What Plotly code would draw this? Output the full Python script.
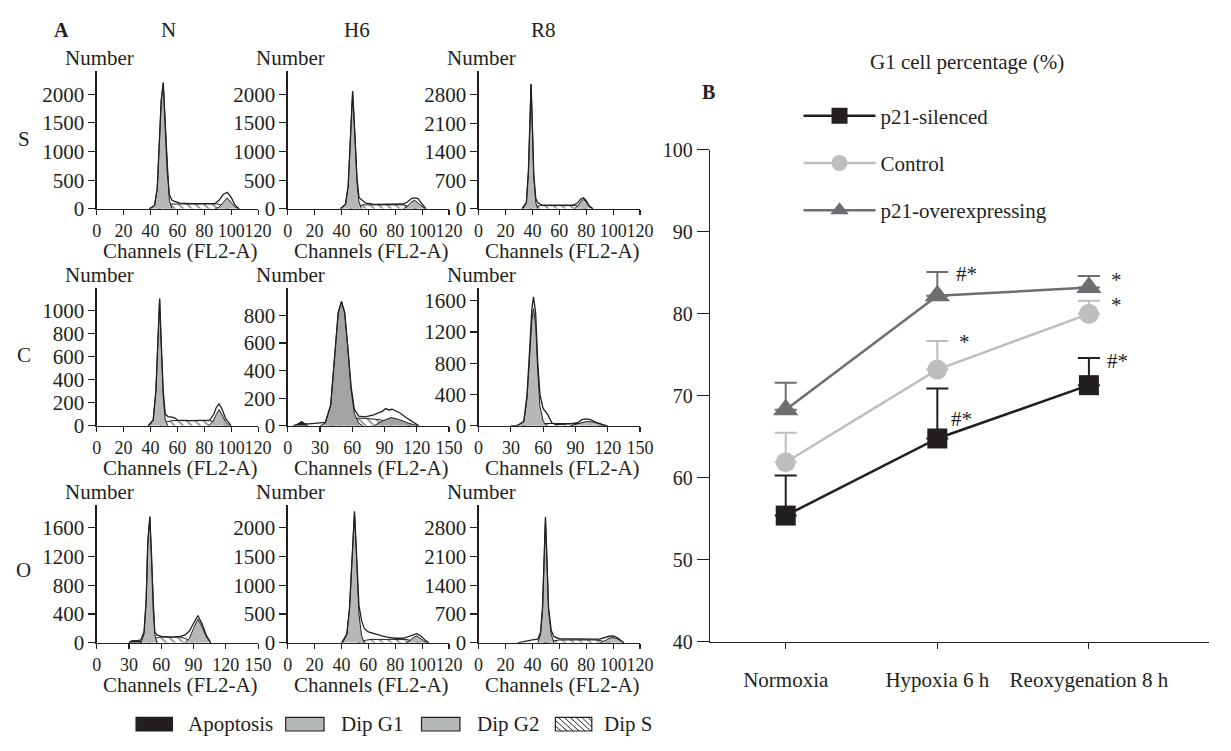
import plotly.graph_objects as go

# The page is shown with the browser's default 8 px body margin, so the figure is
# made 16 px smaller and every reference pixel position is shifted by that margin.
REF_W, REF_H = 1231, 751
OFF = 8
W, H = REF_W - 2 * OFF, REF_H - 2 * OFF
FONT = "Liberation Serif, Times New Roman, serif"
INK = "#231f20"
GRAY = "#b6b7b9"
GRAY_DARK = "#a2a3a5"

# ---------------- Panel B data ----------------
CONDITIONS = ["Normoxia", "Hypoxia 6 h", "Reoxygenation 8 h"]
SILENCED = [55.4, 64.8, 71.3]
SILENCED_ERR = [4.9, 6.1, 3.3]
CONTROL = [61.9, 73.2, 80.0]
CONTROL_ERR = [3.6, 3.5, 1.6]
OVEREXP = [68.3, 82.2, 83.2]
OVEREXP_ERR = [3.3, 2.9, 1.4]
B_YTICKS = [40, 50, 60, 70, 80, 90, 100]
SIG_TEXT = ["#*", "*", "*", "*", "#*", "#*"]
SIG_X = [1.19, 2.18, 2.18, 1.18, 1.16, 2.19]
SIG_Y = [84.9, 84.1, 81.1, 76.6, 67.2, 74.2]

# ---------------- Panel A data ----------------
ROWS = ["S", "C", "O"]
COLS = ["N", "H6", "R8"]

# S / N
S_N_G1_X = [40, 43, 45, 46.5, 48, 49.5, 51, 52.5, 54, 56]
S_N_G1_Y = [0, 60, 350, 1100, 1900, 2200, 1500, 600, 150, 0]
S_N_S_X = [46, 52, 56, 90, 94, 98]
S_N_S_Y = [0, 60, 85, 85, 50, 0]
S_N_G2_X = [88, 91, 94, 97, 100, 103, 106]
S_N_G2_Y = [0, 30, 110, 190, 110, 30, 0]
S_N_TOT_X = [39, 43, 45, 46.5, 48, 49.5, 51, 52.5, 54, 56, 58, 62, 70, 80, 88, 91, 94, 97, 100, 103, 106]
S_N_TOT_Y = [0, 60, 350, 1100, 1900, 2200, 1500, 650, 250, 150, 130, 100, 90, 90, 95, 150, 250, 290, 200, 60, 0]

# S / H6
S_H6_G1_X = [40, 43, 45, 46.5, 48.3, 50, 51.5, 53, 55]
S_H6_G1_Y = [0, 80, 400, 1200, 2050, 1300, 500, 120, 0]
S_H6_S_X = [46, 52, 56, 86, 91, 96]
S_H6_S_Y = [0, 50, 70, 70, 40, 0]
S_H6_G2_X = [86, 89, 92, 94.5, 97, 100, 102]
S_H6_G2_Y = [0, 40, 120, 150, 100, 30, 0]
S_H6_TOT_X = [39, 43, 45, 46.5, 48.3, 50, 51.5, 53, 55, 58, 65, 80, 86, 89, 92, 94.5, 97, 100, 103]
S_H6_TOT_Y = [0, 80, 400, 1200, 2050, 1300, 550, 200, 160, 100, 80, 80, 85, 120, 180, 190, 180, 80, 0]

# S / R8
S_R8_G1_X = [33, 35.5, 37, 38, 39, 40, 41, 42.5, 44]
S_R8_G1_Y = [0, 150, 900, 2000, 3050, 2000, 800, 150, 0]
S_R8_S_X = [38, 42, 46, 72, 76, 80]
S_R8_S_Y = [0, 60, 80, 80, 50, 0]
S_R8_G2_X = [71, 74, 76, 78, 80, 82, 85]
S_R8_G2_Y = [0, 80, 180, 230, 170, 60, 0]
S_R8_TOT_X = [32, 35.5, 37, 38, 39, 40, 41, 42.5, 44, 47, 55, 70, 73, 76, 78, 80, 82, 85]
S_R8_TOT_Y = [0, 150, 900, 2000, 3050, 2000, 850, 250, 150, 100, 90, 90, 130, 240, 270, 200, 80, 0]

# C / N
C_N_G1_X = [39, 42, 44, 45.5, 46.8, 48, 49.5, 51, 53]
C_N_G1_Y = [0, 50, 300, 750, 1100, 700, 250, 50, 0]
C_N_S_X = [47, 52, 56, 84, 90, 97]
C_N_S_Y = [0, 35, 45, 45, 25, 0]
C_N_G2_X = [83, 86, 89, 91, 93, 96, 99]
C_N_G2_Y = [0, 30, 100, 140, 100, 30, 0]
C_N_TOT_X = [38, 42, 44, 45.5, 46.8, 48, 49.5, 51, 53, 56, 58, 60, 70, 84, 87, 89, 91, 93, 96, 100]
C_N_TOT_Y = [0, 50, 300, 750, 1100, 720, 300, 100, 80, 75, 70, 50, 45, 50, 100, 160, 190, 150, 60, 0]

# C / H6
C_H6_APO_X = [7, 10, 13, 16, 19]
C_H6_APO_Y = [0, 15, 30, 15, 0]
C_H6_G1_X = [30, 35, 40, 44, 47, 50, 53, 56, 59, 62, 66, 70]
C_H6_G1_Y = [0, 20, 150, 500, 820, 900, 820, 560, 260, 90, 20, 0]
C_H6_S_X = [40, 48, 56, 70, 85, 95, 105, 115]
C_H6_S_Y = [0, 35, 55, 55, 45, 30, 12, 0]
C_H6_G2_X = [80, 88, 96, 104, 112, 121]
C_H6_G2_Y = [0, 35, 60, 45, 20, 0]
C_H6_TOT_X = [5, 10, 13, 16, 20, 28, 35, 40, 44, 47, 50, 53, 56, 59, 62, 66, 72, 80, 85, 88, 91, 94, 97, 100, 104, 110, 116, 122]
C_H6_TOT_Y = [0, 15, 30, 15, 15, 20, 25, 150, 500, 820, 900, 820, 560, 280, 120, 70, 65, 80, 95, 105, 125, 115, 120, 110, 95, 60, 30, 0]

# C / R8
C_R8_G1_X = [36, 42, 45, 47.5, 49.5, 51, 53, 55, 57, 60, 63]
C_R8_G1_Y = [0, 50, 350, 900, 1350, 1500, 1300, 700, 250, 60, 0]
C_R8_S_X = [40, 50, 60, 95, 110, 118]
C_R8_S_Y = [0, 25, 30, 30, 15, 0]
C_R8_G2_X = [85, 92, 100, 106, 112, 119]
C_R8_G2_Y = [0, 30, 55, 50, 25, 0]
C_R8_TOT_X = [30, 36, 42, 45, 47.5, 49.5, 51, 53, 55, 57, 60, 64, 68, 72, 85, 92, 96, 100, 104, 110, 117, 120]
C_R8_TOT_Y = [0, 5, 60, 400, 1000, 1500, 1650, 1450, 800, 400, 220, 150, 40, 15, 25, 40, 80, 90, 80, 40, 10, 0]

# O / N
O_N_APO_X = [30, 32, 36, 40, 42]
O_N_APO_Y = [0, 25, 30, 25, 0]
O_N_G1_X = [41, 44, 46, 47.5, 49.4, 51, 52.5, 54, 56]
O_N_G1_Y = [0, 120, 600, 1400, 1750, 1200, 500, 120, 0]
O_N_S_X = [48, 54, 58, 78, 84, 90]
O_N_S_Y = [0, 60, 80, 80, 50, 0]
O_N_G2_X = [82, 86, 90, 94, 98, 102, 106]
O_N_G2_Y = [0, 60, 200, 330, 220, 80, 0]
O_N_TOT_X = [30, 32, 38, 41, 44, 46, 47.5, 49.4, 51, 52.5, 54, 56, 60, 70, 78, 82, 86, 90, 94, 98, 102, 106]
O_N_TOT_Y = [0, 25, 30, 40, 150, 600, 1400, 1750, 1200, 500, 150, 110, 90, 80, 90, 110, 160, 260, 380, 260, 100, 0]

# O / H6
O_H6_G1_X = [41, 44, 46, 48, 49.7, 51.2, 53, 55, 57]
O_H6_G1_Y = [0, 150, 600, 1500, 2280, 1500, 500, 120, 0]
O_H6_S_X = [52, 58, 62, 88, 93, 98]
O_H6_S_Y = [0, 45, 60, 60, 35, 0]
O_H6_G2_X = [88, 91, 94, 96, 98, 101, 104]
O_H6_G2_Y = [0, 40, 100, 120, 90, 30, 0]
O_H6_TOT_X = [40, 44, 46, 48, 49.7, 51.2, 53, 55, 57, 60, 65, 70, 75, 80, 86, 90, 93, 96, 99, 102, 105]
O_H6_TOT_Y = [0, 150, 600, 1500, 2280, 1550, 650, 380, 250, 190, 150, 120, 95, 80, 80, 110, 140, 160, 120, 50, 0]

# O / R8
O_R8_G1_X = [44, 46, 47.5, 48.8, 49.7, 50.6, 52, 54, 56]
O_R8_G1_Y = [0, 200, 800, 2000, 3050, 2200, 800, 200, 0]
O_R8_S_X = [48, 55, 60, 88, 93, 98]
O_R8_S_Y = [0, 50, 70, 70, 40, 0]
O_R8_G2_X = [90, 94, 97, 100, 103, 106, 108]
O_R8_G2_Y = [0, 50, 110, 130, 100, 30, 0]
O_R8_TOT_X = [29, 34, 40, 44, 46, 47.5, 48.8, 49.7, 50.6, 52, 54, 56, 60, 70, 85, 90, 94, 97, 100, 103, 106, 108]
O_R8_TOT_Y = [0, 40, 70, 90, 250, 850, 2000, 3050, 2200, 850, 300, 150, 100, 90, 90, 90, 130, 160, 170, 130, 50, 0]

# axis extents per panel (row-major S/N, S/H6, S/R8, C/N, ...)
X_MAX = [120, 120, 120, 120, 150, 150, 150, 120, 120]
X_STEP = [20, 20, 20, 20, 30, 30, 30, 20, 20]
Y_MAX = [2400, 2400, 3370, 1190, 995, 1760, 1909, 2387, 3341]
Y_STEP = [500, 500, 700, 200, 200, 400, 400, 500, 700]

LEGEND_A = ["Apoptosis", "Dip G1", "Dip G2", "Dip S"]

PANELS = [
    (None, None, S_N_G1_X, S_N_G1_Y, S_N_S_X, S_N_S_Y, S_N_G2_X, S_N_G2_Y, S_N_TOT_X, S_N_TOT_Y),
    (None, None, S_H6_G1_X, S_H6_G1_Y, S_H6_S_X, S_H6_S_Y, S_H6_G2_X, S_H6_G2_Y, S_H6_TOT_X, S_H6_TOT_Y),
    (None, None, S_R8_G1_X, S_R8_G1_Y, S_R8_S_X, S_R8_S_Y, S_R8_G2_X, S_R8_G2_Y, S_R8_TOT_X, S_R8_TOT_Y),
    (None, None, C_N_G1_X, C_N_G1_Y, C_N_S_X, C_N_S_Y, C_N_G2_X, C_N_G2_Y, C_N_TOT_X, C_N_TOT_Y),
    (C_H6_APO_X, C_H6_APO_Y, C_H6_G1_X, C_H6_G1_Y, C_H6_S_X, C_H6_S_Y, C_H6_G2_X, C_H6_G2_Y, C_H6_TOT_X, C_H6_TOT_Y),
    (None, None, C_R8_G1_X, C_R8_G1_Y, C_R8_S_X, C_R8_S_Y, C_R8_G2_X, C_R8_G2_Y, C_R8_TOT_X, C_R8_TOT_Y),
    (O_N_APO_X, O_N_APO_Y, O_N_G1_X, O_N_G1_Y, O_N_S_X, O_N_S_Y, O_N_G2_X, O_N_G2_Y, O_N_TOT_X, O_N_TOT_Y),
    (None, None, O_H6_G1_X, O_H6_G1_Y, O_H6_S_X, O_H6_S_Y, O_H6_G2_X, O_H6_G2_Y, O_H6_TOT_X, O_H6_TOT_Y),
    (None, None, O_R8_G1_X, O_R8_G1_Y, O_R8_S_X, O_R8_S_Y, O_R8_G2_X, O_R8_G2_Y, O_R8_TOT_X, O_R8_TOT_Y),
]


def fx(p):
    return min(1.0, max(0.0, (p - OFF) / W))


def fy(p):
    return min(1.0, max(0.0, 1 - (p - OFF) / H))


COL_LEFT = [93, 287, 481]
AX_W = 164
ROW_BOTTOM = [204, 428, 652]
AX_H = 142

fig = go.Figure()
layout = dict(
    width=W, height=H, autosize=False,
    margin=dict(l=0, r=0, t=0, b=0, pad=0),
    paper_bgcolor="white", plot_bgcolor="white",
    font=dict(family=FONT, size=21, color=INK),
    hovermode=False, showlegend=True,
)
annotations = []
shapes = []

for i, p in enumerate(PANELS):
    r, c = divmod(i, 3)
    apo_x, apo_y, g1x, g1y, sx, sy, g2x, g2y, tx, ty = p
    xa = "x" if i == 0 else f"x{i+1}"
    ya = "y" if i == 0 else f"y{i+1}"
    common = dict(xaxis=xa, yaxis=ya, mode="lines", showlegend=False, hoverinfo="skip")
    fig.add_trace(go.Scatter(x=sx, y=sy, fill="tozeroy", fillcolor="white",
                             fillpattern=dict(shape="\\", fgcolor=INK, bgcolor="white", size=6, solidity=0.3),
                             line=dict(color=INK, width=1), **common))
    fill_g1 = GRAY_DARK if i == 4 else GRAY
    fig.add_trace(go.Scatter(x=g1x, y=g1y, fill="tozeroy", fillcolor=fill_g1,
                             line=dict(color=INK, width=1), **common))
    fig.add_trace(go.Scatter(x=g2x, y=g2y, fill="tozeroy", fillcolor=fill_g1,
                             line=dict(color=INK, width=1), **common))
    if apo_x is not None:
        fig.add_trace(go.Scatter(x=apo_x, y=apo_y, fill="tozeroy", fillcolor=INK,
                                 line=dict(color=INK, width=1), **common))
    fig.add_trace(go.Scatter(x=tx, y=ty, line=dict(color=INK, width=1.3), **common))

    x0 = COL_LEFT[c]
    yb = ROW_BOTTOM[r]
    kx = "xaxis" if i == 0 else f"xaxis{i+1}"
    ky = "yaxis" if i == 0 else f"yaxis{i+1}"
    layout[kx] = dict(domain=[fx(x0), fx(x0 + AX_W)], anchor=ya, range=[0, X_MAX[i]],
                      tickmode="linear", tick0=0, dtick=X_STEP[i], tickangle=0,
                      showline=True, linecolor=INK, linewidth=1.2, ticks="outside",
                      ticklen=5, tickcolor=INK, tickwidth=1.2, showgrid=False, zeroline=False,
                      ticklabelstandoff=0, tickfont=dict(size=18), fixedrange=True)
    layout[ky] = dict(domain=[fy(yb), fy(yb - AX_H)], anchor=xa, range=[0, Y_MAX[i]],
                      tickmode="linear", tick0=0, dtick=Y_STEP[i],
                      showline=True, linecolor=INK, linewidth=1.2, ticks="outside",
                      ticklen=7, tickcolor=INK, tickwidth=1.2, showgrid=False, zeroline=False,
                      tickfont=dict(size=21), fixedrange=True)
    annotations.append(dict(text="Number", x=fx(x0 + 3), y=fy(yb - AX_H - 14), xref="paper", yref="paper",
                            showarrow=False, xanchor="center", yanchor="middle", font=dict(size=21)))
    annotations.append(dict(text="Channels (FL2-A)", x=fx(x0 + 85), y=fy(yb + 43), xref="paper", yref="paper",
                            showarrow=False, xanchor="center", yanchor="middle", font=dict(size=21)))

# column / row labels
for c, name in enumerate(COLS):
    annotations.append(dict(text=name, x=fx([166, 357, 547][c]), y=fy(19), xref="paper", yref="paper",
                            showarrow=False, xanchor="center", yanchor="middle", font=dict(size=21)))
for r, name in enumerate(ROWS):
    annotations.append(dict(text=name, x=fx(19), y=fy([132, 355, 577][r]), xref="paper", yref="paper",
                            showarrow=False, xanchor="center", yanchor="middle", font=dict(size=21)))
annotations.append(dict(text="<b>A</b>", x=fx(57), y=fy(19), xref="paper", yref="paper",
                        showarrow=False, xanchor="center", yanchor="middle", font=dict(size=20)))
annotations.append(dict(text="<b>B</b>", x=fx(715), y=fy(83), xref="paper", yref="paper",
                        showarrow=False, xanchor="center", yanchor="middle", font=dict(size=20)))
annotations.append(dict(text="G1 cell percentage (%)", x=fx(977), y=fy(52), xref="paper", yref="paper",
                        showarrow=False, xanchor="center", yanchor="middle", font=dict(size=21)))

# bottom legend (manual swatches)
BOX_X = [(133, 170), (285, 324), (423, 462), (559, 596)]
TXT_X = [184, 339, 477, 606]
BY0, BY1 = 729, 744
for k, name in enumerate(LEGEND_A):
    bx0, bx1 = BOX_X[k]
    fillc = INK if k == 0 else (GRAY if k in (1, 2) else "white")
    shapes.append(dict(type="rect", xref="paper", yref="paper", x0=fx(bx0), x1=fx(bx1), y0=fy(BY1), y1=fy(BY0),
                       fillcolor=fillc, line=dict(color=INK, width=1.2)))
    annotations.append(dict(text=name, x=fx(TXT_X[k]), y=fy(736), xref="paper", yref="paper",
                            showarrow=False, xanchor="left", yanchor="middle", font=dict(size=21)))
bx0, bx1 = BOX_X[3]
hh = BY1 - BY0
k = bx0 - hh
while k < bx1:
    t0 = max(0.0, (bx0 - k) / hh)
    t1 = min(1.0, (bx1 - k) / hh)
    if t1 > t0:
        shapes.append(dict(type="line", xref="paper", yref="paper",
                           x0=fx(k + hh * t0), y0=fy(BY0 + hh * t0), x1=fx(k + hh * t1), y1=fy(BY0 + hh * t1),
                           line=dict(color=INK, width=1)))
    k += 6

# ---------------- Panel B ----------------
xs = list(range(len(CONDITIONS)))
series = [
    ("p21-silenced", SILENCED, SILENCED_ERR, INK, "square"),
    ("Control", CONTROL, CONTROL_ERR, "#bcbec0", "circle"),
    ("p21-overexpressing", OVEREXP, OVEREXP_ERR, "#6d6e71", "triangle-up"),
]
for j, (name, vals, err, col, sym) in enumerate(series):
    fig.add_trace(go.Scatter(
        x=xs, y=vals, name=name, xaxis="x10", yaxis="y10", mode="lines+markers",
        line=dict(color=col, width=2.5),
        marker=dict(symbol=sym, size=22 if sym == "triangle-up" else 20, color=col),
        error_y=dict(type="data", symmetric=False, array=err, arrayminus=[0] * len(err),
                     color=col, thickness=2, width=11),
        legend="legend2", legendgroup=name, cliponaxis=False, hoverinfo="skip"))

B_LEFT, B_RIGHT = 716, REF_W - OFF
layout["xaxis10"] = dict(domain=[fx(B_LEFT), fx(B_RIGHT)], anchor="y10",
                         range=[-0.5, -0.5 + (B_RIGHT - B_LEFT) / 154.0],
                         tickmode="array", tickvals=xs, ticktext=CONDITIONS, tickangle=0,
                         showline=True, linecolor=INK, linewidth=1.2, ticks="outside", ticklen=6,
                         tickcolor=INK, ticklabelstandoff=13, showgrid=False, zeroline=False,
                         tickfont=dict(size=21), fixedrange=True)
layout["yaxis10"] = dict(domain=[fy(651), fy(143)], anchor="x10", range=[40, 100],
                         tickmode="array", tickvals=B_YTICKS, showline=True, linecolor=INK, linewidth=1.2,
                         ticks="outside", ticklen=12, tickcolor=INK, showgrid=False, zeroline=False,
                         tickfont=dict(size=20), fixedrange=True)
for t, sx_, sy_ in zip(SIG_TEXT, SIG_X, SIG_Y):
    annotations.append(dict(text=t, x=sx_, y=sy_, xref="x10", yref="y10", showarrow=False,
                            xanchor="center", yanchor="middle", font=dict(size=21)))

layout["legend2"] = dict(x=fx(806), y=fy(87), xanchor="left", yanchor="top", orientation="v",
                         bgcolor="rgba(0,0,0,0)", font=dict(size=21), tracegroupgap=17,
                         itemwidth=72, itemsizing="trace")
layout["annotations"] = annotations
layout["shapes"] = shapes
fig.update_layout(**layout)

fig.write_html("out.html", config={"displayModeBar": False, "staticPlot": True})
